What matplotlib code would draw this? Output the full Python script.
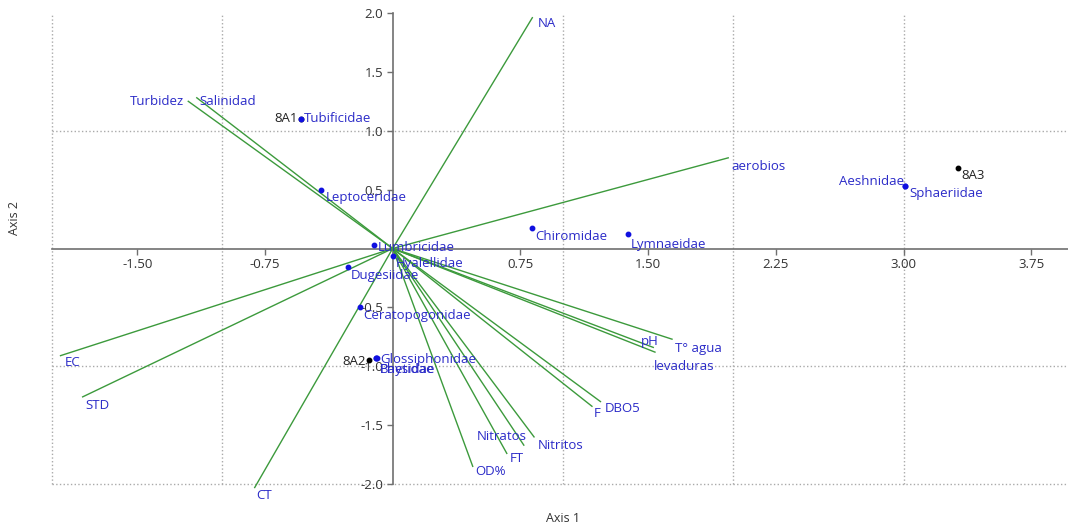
import matplotlib
matplotlib.use("Agg")
import matplotlib.pyplot as plt
from matplotlib.ticker import FuncFormatter

plt.rcParams['font.family'] = ['Open Sans', 'DejaVu Sans']

# Environmental vectors (biplot arrows)
env_names = ["NA", "Turbidez", "Salinidad", "aerobios", "EC", "STD", "CT", "OD%",
             "FT", "Nitratos", "Nitritos", "F", "DBO5", "pH", "levaduras", "T° agua"]
env_x = [0.82, -1.20, -1.15, 1.97, -1.95, -1.82, -0.81, 0.47,
         0.67, 0.77, 0.83, 1.17, 1.22, 1.53, 1.54, 1.64]
env_y = [1.96, 1.25, 1.28, 0.77, -0.91, -1.26, -2.03, -1.85,
         -1.74, -1.67, -1.60, -1.34, -1.30, -0.84, -0.88, -0.77]

# Taxa scores
taxa_names = ["Tubificidae", "Leptoceridae", "Lumbricidae", "Hyalellidae", "Dugesiidae",
              "Ceratopogonidae", "Glossiphonidae", "Physidae", "Baetidae",
              "Chiromidae", "Lymnaeidae", "Aeshnidae", "Sphaeriidae"]
taxa_x = [-0.54, -0.42, -0.11, 0.00, -0.26, -0.19, -0.10, -0.10, -0.09,
          0.82, 1.38, 3.01, 3.01]
taxa_y = [1.10, 0.50, 0.03, -0.06, -0.16, -0.50, -0.93, -0.93, -0.93,
          0.17, 0.12, 0.53, 0.53]

# Site scores
site_names = ["8A1", "8A2", "8A3"]
site_x = [-0.54, -0.14, 3.32]
site_y = [1.10, -0.95, 0.68]

x_ticks = [-1.50, -0.75, 0.75, 1.50, 2.25, 3.00, 3.75]
y_ticks = [2.0, 1.5, 1.0, 0.5, -0.5, -1.0, -1.5, -2.0]
x_grid = [-2, -1, 1, 2, 3]
y_grid = [-2, -1, 1]

# label placement: (dx, dy in points, ha)
env_lab = {"NA": (4, -4, 'left'), "Turbidez": (-3, 0, 'right'), "Salinidad": (2, -3, 'left'),
           "aerobios": (2, -6, 'left'), "EC": (3, -5, 'left'), "STD": (2, -6, 'left'),
           "CT": (1, -6, 'left'), "OD%": (2, -4, 'left'), "FT": (2, -4, 'left'),
           "Nitratos": (2, 6, 'right'), "Nitritos": (3, -6, 'left'), "F": (1, -5, 'left'),
           "DBO5": (3, -5, 'left'), "pH": (4, 4, 'right'), "levaduras": (-1, -10, 'left'),
           "T° agua": (2, -7, 'left')}
taxa_lab = {"Tubificidae": (2, 0, 'left'), "Leptoceridae": (3, -6, 'left'),
            "Lumbricidae": (3, -2, 'left'), "Hyalellidae": (2, -6, 'left'),
            "Dugesiidae": (2, -6, 'left'), "Ceratopogonidae": (2, -6, 'left'),
            "Glossiphonidae": (3, -1, 'left'), "Physidae": (3, -8, 'left'),
            "Baetidae": (2, -8, 'left'), "Chiromidae": (2, -6, 'left'),
            "Lymnaeidae": (2, -7, 'left'), "Aeshnidae": (-1, 3, 'right'),
            "Sphaeriidae": (3, -5, 'left')}
site_lab = {"8A1": (-2, 0, 'right'), "8A2": (-2, -1, 'right'), "8A3": (2, -5, 'left')}

W, H = 1068, 529
fig = plt.figure(figsize=(W / 100, H / 100), dpi=100)
x0, x1 = -2.0, (1068 - 392) / 170.5
ax = fig.add_axes([52 / W, (529 - 484) / H, (1068 - 52) / W, (484 - 13) / H])
ax.set_xlim(x0, x1)
ax.set_ylim(-2.0, 2.0)

blue = '#2b2bc8'
green = '#3c9a3c'
axcol = '#707070'
gridcol = '#aaaaaa'

# grid lines
for gx in x_grid:
    ax.axvline(gx, color=gridcol, linestyle=':', linewidth=1.0, zorder=0, clip_on=False)
for gy in y_grid:
    ax.axhline(gy, color=gridcol, linestyle=':', linewidth=1.0, zorder=0, clip_on=False)

for s in ['top', 'right']:
    ax.spines[s].set_visible(False)
ax.spines['bottom'].set_position(('data', 0))
ax.spines['left'].set_position(('data', 0))
for s in ['bottom', 'left']:
    ax.spines[s].set_color(axcol)
    ax.spines[s].set_linewidth(1.2)
    ax.spines[s].set_zorder(1)

ax.set_xticks(x_ticks)
ax.set_yticks(y_ticks)
ax.xaxis.set_major_formatter(FuncFormatter(lambda v, p: f"{v:.2f}"))
ax.yaxis.set_major_formatter(FuncFormatter(lambda v, p: f"{v:.1f}"))
ax.tick_params(which='major', length=4, width=1, color=axcol, labelsize=9.5,
               labelcolor='#333333', pad=3)

# vectors
for n, x, y in zip(env_names, env_x, env_y):
    ax.plot([0, x], [0, y], color=green, lw=1.0, clip_on=False, zorder=2)
    dx, dy, ha = env_lab[n]
    ax.annotate(n, (x, y), xytext=(dx, dy), textcoords='offset points', ha=ha,
                va='center', color=blue, fontsize=9.5, annotation_clip=False, zorder=5)

# sites
ax.plot(site_x, site_y, 'o', color='black', ms=3.2, zorder=3, clip_on=False)
for n, x, y in zip(site_names, site_x, site_y):
    dx, dy, ha = site_lab[n]
    ax.annotate(n, (x, y), xytext=(dx, dy), textcoords='offset points', ha=ha,
                va='center', color='#222222', fontsize=9.5, zorder=5)

# taxa
ax.plot(taxa_x, taxa_y, 'o', color='#1010e0', ms=3.2, zorder=4, clip_on=False)
for n, x, y in zip(taxa_names, taxa_x, taxa_y):
    dx, dy, ha = taxa_lab[n]
    ax.annotate(n, (x, y), xytext=(dx, dy), textcoords='offset points', ha=ha,
                va='center', color=blue, fontsize=9.5, zorder=5)

fig.text(563 / W, 1 - 519 / H, "Axis 1", ha='center', va='center', fontsize=9, color='#333333')
fig.text(15 / W, 1 - 218 / H, "Axis 2", ha='center', va='center', fontsize=9,
         color='#333333', rotation=90)

fig.savefig("out.png", dpi=100)
